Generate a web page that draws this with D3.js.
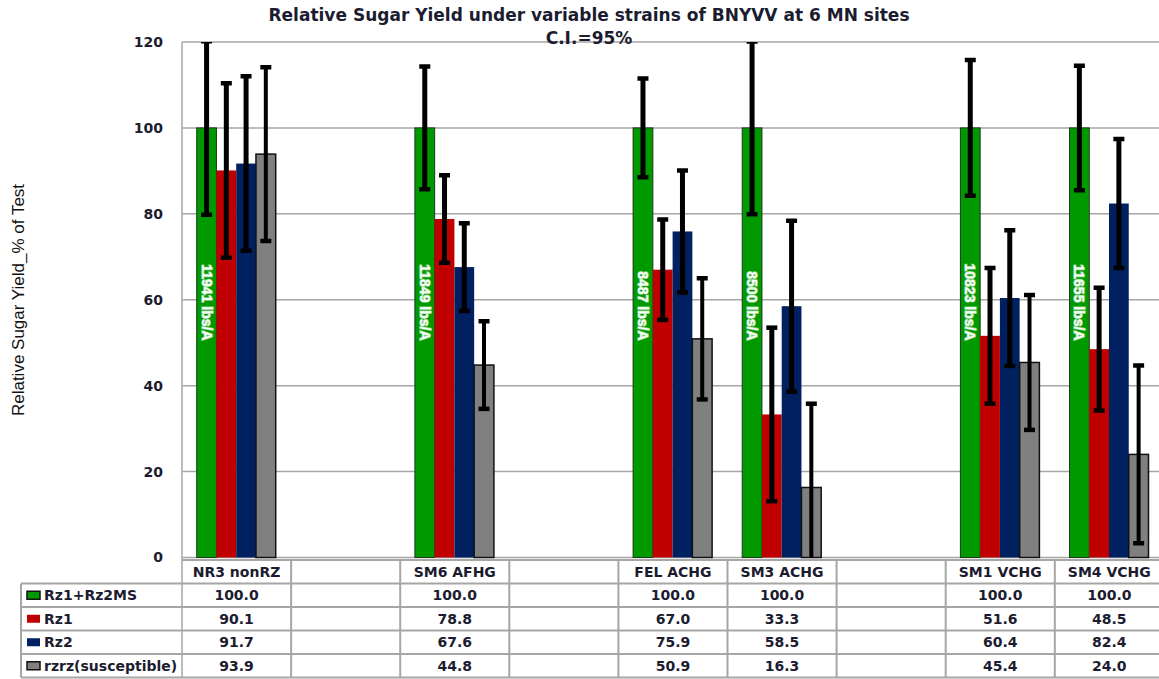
<!DOCTYPE html>
<html>
<head>
<meta charset="utf-8">
<script src="https://cdn.jsdelivr.net/npm/d3@7"></script>
<style>
  body { margin: 0; background: #fff; }
  svg { display: block; }
</style>
</head>
<body>
<div id="chart"></div>
<script>
// table columns (blank = empty slot in the sheet)
const columns = ["NR3 nonRZ", "", "SM6 AFHG", "", "FEL ACHG", "SM3 ACHG", "", "SM1 VCHG", "SM4 VCHG"];
const seriesNames = ["Rz1+Rz2MS", "Rz1", "Rz2", "rzrz(susceptible)"];
const seriesColors = ["#009a00", "#c00000", "#002060", "#808080"];

// values per site (non-blank columns in order)
const rz1rz2ms = [100, 100, 100, 100, 100, 100];
const rz1 = [90.1, 78.8, 67.0, 33.3, 51.6, 48.5];
const rz2 = [91.7, 67.6, 75.9, 58.5, 60.4, 82.4];
const rzrz = [93.9, 44.8, 50.9, 16.3, 45.4, 24.0];

// 95% CI half widths
const rz1rz2msErr = [20.2, 14.3, 11.5, 20.1, 15.8, 14.5];
const rz1Err = [20.3, 10.2, 11.7, 20.2, 15.8, 14.3];
const rz2Err = [20.3, 10.2, 14.2, 19.9, 15.8, 15.0];
const rzrzErr = [20.2, 10.2, 14.1, 19.5, 15.7, 20.7];

const yieldLabels = ["11941 lbs/A", "11849 lbs/A", "8487 lbs/A", "8500 lbs/A", "10823 lbs/A", "11655 lbs/A"];
const yTicks = [0, 20, 40, 60, 80, 100, 120];

const values = [rz1rz2ms, rz1, rz2, rzrz];
const errors = [rz1rz2msErr, rz1Err, rz2Err, rzrzErr];

const W = 1159, H = 679;
const plotLeft = 182, plotTop = 42, plotBottom = 557.5;
const colW = 109.1;
const gridColor = "#a6a6a6";
const textColor = "#1c1c30";

const svg = d3.select("#chart").append("svg")
  .attr("width", W).attr("height", H);

const x = d3.scaleBand()
  .domain(d3.range(columns.length))
  .range([plotLeft, plotLeft + colW * columns.length])
  .padding(0);

const xs = d3.scaleBand()
  .domain(seriesNames)
  .range([14.7, 93.7]);

const y = d3.scaleLinear().domain([0, 120]).range([plotBottom, plotTop]);

const siteCols = columns.map((c, i) => c ? i : -1).filter(i => i >= 0);

// gridlines
svg.append("g")
  .selectAll("line")
  .data(yTicks)
  .join("line")
  .attr("x1", plotLeft).attr("x2", W)
  .attr("y1", d => y(d)).attr("y2", d => y(d))
  .attr("stroke", gridColor).attr("stroke-width", 1.5);

// y axis labels
const yAxis = svg.append("g")
  .attr("transform", `translate(${plotLeft},0)`)
  .call(d3.axisLeft(y).tickValues(yTicks).tickSize(0).tickPadding(19));
yAxis.select(".domain").remove();
yAxis.selectAll("text")
  .attr("fill", textColor)
  .style("font", "bold 14px 'DejaVu Sans'");

svg.append("line")
  .attr("x1", plotLeft).attr("x2", plotLeft)
  .attr("y1", plotTop).attr("y2", 678)
  .attr("stroke", gridColor).attr("stroke-width", 1.5);

// bars
const barData = [];
siteCols.forEach((col, i) => {
  seriesNames.forEach((s, k) => {
    barData.push({ col, s, k, v: values[k][i], e: errors[k][i], site: i });
  });
});

svg.append("g")
  .selectAll("rect")
  .data(barData)
  .join("rect")
  .attr("x", d => x(d.col) + xs(d.s))
  .attr("width", xs.bandwidth())
  .attr("y", d => y(d.v))
  .attr("height", d => y(0) - y(d.v))
  .attr("fill", d => seriesColors[d.k])
  .attr("stroke", d => d.k === 0 ? "#1a3a1a" : d.k === 3 ? "#111" : "none")
  .attr("stroke-width", d => d.k === 3 ? 1.5 : 1);

// yield labels inside the green bars
svg.append("g")
  .selectAll("text")
  .data(siteCols)
  .join("text")
  .attr("transform", (col, i) => `translate(${x(col) + xs(seriesNames[0]) + xs.bandwidth() / 2},${y(50.5)}) rotate(90)`)
  .attr("text-anchor", "end")
  .attr("dy", "0.35em")
  .attr("fill", "#f6fff6")
  .attr("stroke", "#8fcf8f")
  .attr("stroke-width", 1.4)
  .attr("paint-order", "stroke")
  .style("font", "bold 14px 'Liberation Sans'")
  .text((col, i) => yieldLabels[i]);

// error bars, clipped to the plot
svg.append("clipPath").attr("id", "plotclip")
  .append("rect")
  .attr("x", plotLeft).attr("y", plotTop)
  .attr("width", W - plotLeft).attr("height", plotBottom - plotTop);

const err = svg.append("g")
  .attr("clip-path", "url(#plotclip)")
  .selectAll("g")
  .data(barData)
  .join("g")
  .attr("transform", d => `translate(${x(d.col) + xs(d.s) + xs.bandwidth() / 2},0)`);

err.append("line")
  .attr("y1", d => y(d.v + d.e)).attr("y2", d => y(d.v - d.e))
  .attr("stroke", "#000")
  .attr("stroke-width", d => d.k === 3 ? 4 : 5);

err.selectAll("line.cap")
  .data(d => [d.v + d.e, d.v - d.e])
  .join("line")
  .attr("class", "cap")
  .attr("x1", -5.5).attr("x2", 5.5)
  .attr("y1", v => y(v)).attr("y2", v => y(v))
  .attr("stroke", "#000").attr("stroke-width", 4.5);

// title
svg.append("text")
  .attr("x", 589).attr("y", 21)
  .attr("text-anchor", "middle")
  .attr("fill", textColor)
  .style("font", "bold 17px 'DejaVu Sans'")
  .text("Relative Sugar Yield under variable strains of BNYVV at 6 MN sites");
svg.append("text")
  .attr("x", 589).attr("y", 44)
  .attr("text-anchor", "middle")
  .attr("fill", textColor)
  .style("font", "bold 17px 'DejaVu Sans'")
  .text("C.I.=95%");

// y axis title
svg.append("text")
  .attr("transform", "translate(24,300) rotate(-90)")
  .attr("text-anchor", "middle")
  .attr("fill", "#111")
  .style("font", "17px 'Liberation Sans Narrow', 'Liberation Sans'")
  .text("Relative Sugar Yield_% of Test");

// data table
const rowTop = 560, rowH = 23.5;
const tableLeft = 21;
const tableRight = plotLeft + colW * columns.length;
const tbl = svg.append("g");

// horizontal rules
tbl.append("line")
  .attr("x1", plotLeft).attr("x2", tableRight)
  .attr("y1", rowTop).attr("y2", rowTop)
  .attr("stroke", gridColor).attr("stroke-width", 2);
tbl.selectAll("line.row")
  .data(d3.range(1, seriesNames.length + 2))
  .join("line")
  .attr("class", "row")
  .attr("x1", tableLeft).attr("x2", tableRight)
  .attr("y1", r => rowTop + r * rowH).attr("y2", r => rowTop + r * rowH)
  .attr("stroke", gridColor).attr("stroke-width", 2);

// vertical rules
tbl.selectAll("line.col")
  .data(d3.range(1, columns.length + 1))
  .join("line")
  .attr("class", "col")
  .attr("x1", c => x(0) + c * colW).attr("x2", c => x(0) + c * colW)
  .attr("y1", rowTop).attr("y2", rowTop + 5 * rowH)
  .attr("stroke", gridColor).attr("stroke-width", 2);
tbl.append("line")
  .attr("x1", tableLeft).attr("x2", tableLeft)
  .attr("y1", rowTop + rowH).attr("y2", rowTop + 5 * rowH)
  .attr("stroke", gridColor).attr("stroke-width", 2);

const tableFont = "bold 14px 'DejaVu Sans'";

// header row: column names
tbl.selectAll("text.head")
  .data(columns)
  .join("text")
  .attr("class", "head")
  .attr("x", (c, i) => x(i) + x.bandwidth() / 2)
  .attr("y", rowTop + rowH / 2)
  .attr("dy", "0.36em")
  .attr("text-anchor", "middle")
  .attr("fill", textColor)
  .style("font", tableFont)
  .text(c => c);

// legend column
const leg = tbl.selectAll("g.leg")
  .data(seriesNames)
  .join("g")
  .attr("class", "leg")
  .attr("transform", (s, k) => `translate(0,${rowTop + (k + 1.5) * rowH})`);
leg.append("rect")
  .attr("x", 27).attr("y", -4)
  .attr("width", 13).attr("height", 8)
  .attr("fill", (s, k) => seriesColors[k])
  .attr("stroke", (s, k) => (k === 0 || k === 3) ? "#111" : "none")
  .attr("stroke-width", 1.5);
leg.append("text")
  .attr("x", 44)
  .attr("dy", "0.36em")
  .attr("fill", textColor)
  .style("font", tableFont)
  .text(s => s);

// value cells
seriesNames.forEach((s, k) => {
  tbl.append("g")
    .selectAll("text")
    .data(siteCols)
    .join("text")
    .attr("x", col => x(col) + x.bandwidth() / 2)
    .attr("y", rowTop + (k + 1.5) * rowH)
    .attr("dy", "0.36em")
    .attr("text-anchor", "middle")
    .attr("fill", textColor)
    .style("font", tableFont)
    .text((col, i) => values[k][i].toFixed(1));
});
</script>
</body>
</html>
